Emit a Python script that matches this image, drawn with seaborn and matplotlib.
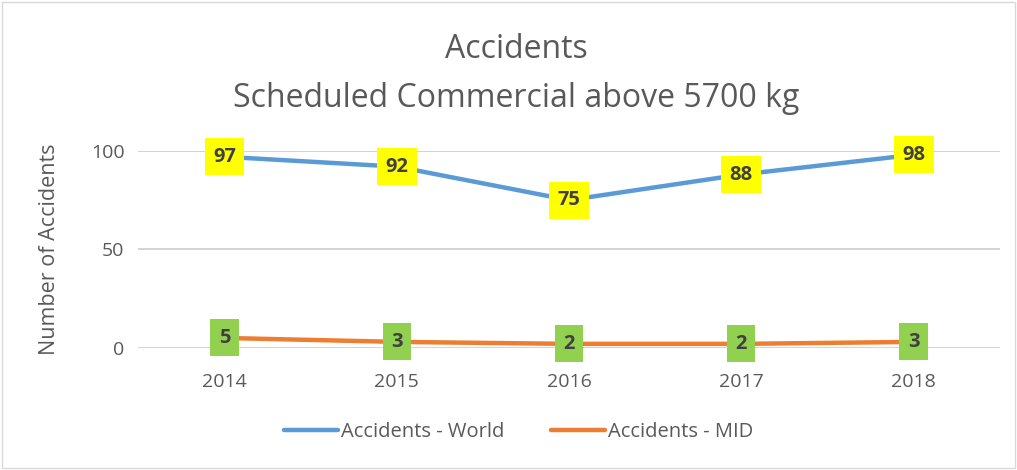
import pandas as pd
import matplotlib.pyplot as plt
import seaborn as sns

# данные
years = ["2014", "2015", "2016", "2017", "2018"]
world = [97, 92, 75, 88, 98]
mid = [5, 3, 2, 2, 3]

df = pd.DataFrame({
    "year": years * 2,
    "value": world + mid,
    "series": ["Accidents - World"] * 5 + ["Accidents - MID"] * 5,
})

sns.set_theme(style="white")
plt.rcParams['font.family'] = ['Open Sans', 'DejaVu Sans']

fig = plt.figure(figsize=(10.17, 4.70), dpi=100)
ax = fig.add_axes([0.136, 0.26, 0.847, 0.419])

palette = {"Accidents - World": "#5B9BD5", "Accidents - MID": "#ED7D31"}
sns.lineplot(data=df, x="year", y="value", hue="series", palette=palette,
             linewidth=3.2, sort=False, ax=ax, legend=True)

# подписи значений
for vals, face in [(world, "#FFFF00"), (mid, "#92D050")]:
    for i, v in enumerate(vals):
        ax.text(i, v, str(v), ha="center", va="center", fontsize=14.5,
                fontweight="bold", color="#404040", clip_on=False, zorder=5,
                bbox=dict(boxstyle="square,pad=0.42", fc=face, ec="none"))

ax.set_xlim(-0.5, 4.5)
ax.set_ylim(0, 100)
ax.set_yticks([0, 50, 100])
ax.yaxis.grid(True, color="#D0D0D0", linewidth=1.3)
ax.set_axisbelow(True)
for s in ax.spines.values():
    s.set_visible(False)
ax.tick_params(axis="both", labelsize=14, colors="#595959", length=0, pad=10)
ax.tick_params(axis="x", pad=18)
ax.set_xlabel("")
ax.set_ylabel("Number of Accidents", fontsize=15.5, color="#595959", labelpad=22)

fig.text(0.508, 0.895, "Accidents", ha="center", va="center", fontsize=23, color="#595959")
fig.text(0.508, 0.79, "Scheduled Commercial above 5700 kg", ha="center", va="center",
         fontsize=23, color="#595959")

handles, labels = ax.get_legend_handles_labels()
ax.legend(handles, labels, loc="center", bbox_to_anchor=(0.51, 0.08),
          bbox_transform=fig.transFigure, ncol=2, frameon=False,
          fontsize=14.5, labelcolor="#595959", handlelength=2.7, handletextpad=0.15,
          columnspacing=2.3)

# рамка вокруг картинки
fig.patches.append(plt.Rectangle((0.002, 0.004), 0.996, 0.992, transform=fig.transFigure,
                                 fill=False, ec="#D9D9D9", lw=1))

fig.savefig("out.png", dpi=100)
